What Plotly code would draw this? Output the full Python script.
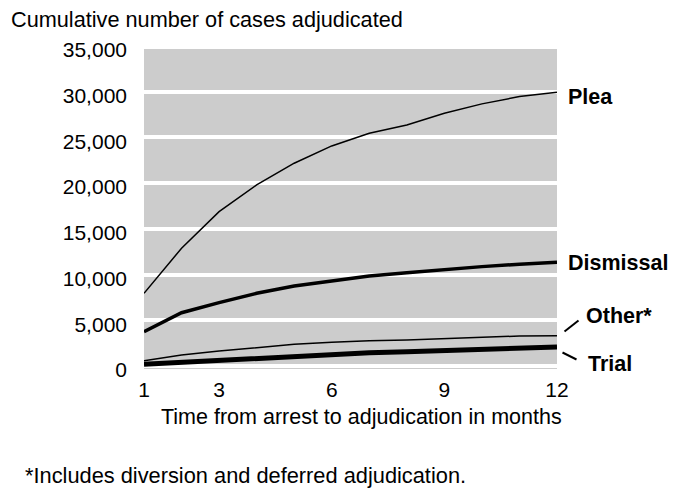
import plotly.graph_objects as go

months = [1, 2, 3, 4, 5, 6, 7, 8, 9, 10, 11, 12]
plea = [7950, 12880, 16880, 19800, 22180, 24070, 25460, 26370, 27650, 28670, 29470, 29950]
dismissal = [3750, 5830, 6930, 7950, 8750, 9300, 9850, 10210, 10580, 10870, 11130, 11350]
other = [580, 1200, 1640, 2040, 2370, 2590, 2770, 2840, 2990, 3140, 3280, 3320]
trial = [180, 400, 580, 840, 1090, 1280, 1460, 1570, 1670, 1860, 2000, 2080]

x_ticks = [1, 3, 6, 9, 12]
y_ticks = [0, 5000, 10000, 15000, 20000, 25000, 30000, 35000]
y_labels = ["0", "5,000", "10,000", "15,000", "20,000", "25,000", "30,000", "35,000"]

FONT = "Liberation Sans, Arial, Helvetica, sans-serif"
FS = 21

W, H = 673, 489
L, R, T, B = 144, 557, 46, 369
YMIN, YMAX = -328, 35000
BG_TOP = 34672

def px(xp):
    return (xp - L) / (R - L)

def py(yp):
    return (B - yp) / (B - T)

fig = go.Figure()
series = [
    ("Plea", plea, 1.5),
    ("Dismissal", dismissal, 3.5),
    ("Other*", other, 1.5),
    ("Trial", trial, 5),
]
for name, vals, w in series:
    fig.add_trace(go.Scatter(x=months, y=vals, mode="lines", name=name,
                             line=dict(color="black", width=w),
                             showlegend=False, cliponaxis=False))

# grey plotting background
fig.add_shape(type="rect", xref="paper", yref="y", x0=0, x1=1, y0=YMIN, y1=BG_TOP,
              fillcolor="#cccccc", line=dict(width=0), layer="below")

# leader lines for the lower labels
fig.add_shape(type="line", xref="paper", yref="paper",
              x0=px(564.5), y0=py(331.5), x1=px(578.5), y1=py(320.5),
              line=dict(color="black", width=2))
fig.add_shape(type="line", xref="paper", yref="paper",
              x0=px(562.5), y0=py(352.5), x1=px(576.5), y1=py(359.5),
              line=dict(color="black", width=2))

bold = dict(family=FONT, size=21.5, color="black", weight="bold")
fig.add_annotation(text="<b>Plea</b>", xref="paper", yref="paper", x=px(566), y=py(97),
                   xanchor="left", yanchor="middle", showarrow=False, font=bold)
fig.add_annotation(text="<b>Dismissal</b>", xref="paper", yref="paper", x=px(566), y=py(263),
                   xanchor="left", yanchor="middle", showarrow=False, font=bold)
fig.add_annotation(text="<b>Other*</b>", xref="paper", yref="paper", x=px(583.5), y=py(316),
                   xanchor="left", yanchor="middle", showarrow=False, font=bold)
fig.add_annotation(text="<b>Trial</b>", xref="paper", yref="paper", x=px(585.5), y=py(364),
                   xanchor="left", yanchor="middle", showarrow=False, font=bold)

reg = dict(family=FONT, size=FS, color="black")
fig.add_annotation(text="Cumulative number of cases adjudicated", xref="paper", yref="paper",
                   x=px(9), y=py(20), xanchor="left", yanchor="middle", showarrow=False,
                   font=dict(family=FONT, size=21.7, color="black"))
fig.add_annotation(text="*Includes diversion and deferred adjudication.", xref="paper", yref="paper",
                   x=px(23), y=py(475), xanchor="left", yanchor="middle", showarrow=False,
                   font=dict(family=FONT, size=21.8, color="black"))
fig.add_annotation(text="Time from arrest to adjudication in months", xref="paper", yref="paper",
                   x=px(361.5), y=py(417), xanchor="center", yanchor="middle", showarrow=False,
                   font=dict(family=FONT, size=21.5, color="black"))

fig.update_layout(
    width=W, height=H,
    margin=dict(l=L, r=W - R, t=T, b=H - B, pad=0),
    paper_bgcolor="white", plot_bgcolor="white",
    font=reg,
)
fig.update_xaxes(range=[1, 12], tickvals=x_ticks, ticktext=[str(v) for v in x_ticks],
                 showgrid=False, zeroline=False, showline=False, ticks="",
                 tickfont=reg, ticklabelstandoff=6)
fig.update_yaxes(range=[YMIN, YMAX], tickvals=y_ticks, ticktext=y_labels,
                 showgrid=True, gridcolor="white", gridwidth=4,
                 zeroline=False, showline=False, ticks="",
                 tickfont=reg, ticklabelstandoff=16, ticklabelshift=4)

fig.write_html("out.html", config={"displayModeBar": False},
               post_script="document.body.style.margin='0';")
